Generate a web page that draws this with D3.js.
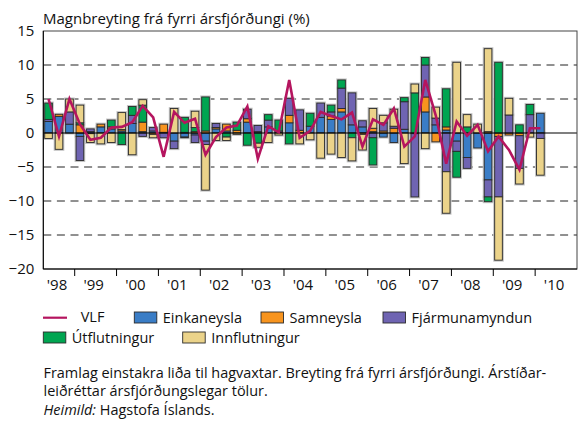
<!DOCTYPE html>
<html><head><meta charset="utf-8">
<script src="https://cdn.jsdelivr.net/npm/d3@7"></script>
<style>
html,body{margin:0;padding:0;background:#fff;}
svg{display:block;font-family:"Open Sans",Lato,sans-serif;}
</style></head>
<body><svg id="chart" width="578" height="422"></svg>
<script>
// ---- data ----
const slots = [];
for (let y = 1998; y <= 2010; y++) for (let q = 1; q <= 4; q++) if (!(y === 1998 && q === 1)) slots.push(y + "Q" + q);
const quarters = slots.slice(0, 48);
const einkaneysla    = [1.7,2.45,1.3,-0.5,0.2,0.9,0.6,0.3,1.4,0.2,0.3,0.1, -1.2,-0.6,-0.3,-1.2,0.6,0.3,0,1.6,0.2,0.9,0.1,1.5, 0,1.0,2.3,2.0,3.1,1.2,0.9,0.2,-0.6,-1.4,0.55,-0.1, 3.1,1.2,0.44,-1.2,-3.6,-2.2,-6.9,0,0,0,0,2.9];
const samneysla      = [0,0.3,0,1.2,-0.1,0.4,0.3,0.2,0,1.4,-0.2,1.2, 0,0.1,0.2,0.3,0.2,1.0,0.4,0.5,0,0,0,1.1, 0.4,0,0,0.5,0.5,0,-0.2,0.5,0.3,0.7,0,0, 2.2,-1.3,0.46,0,0,0,0.2,-0.5,-0.3,-0.4,0,0];
const fjarmunamyndun = [0.3,0,1.8,-3.55,0.4,0,0,0,1.2,-0.5,0.5,-0.7, -1.1,-0.1,-1.1,-0.5,0.6,0,0,1.4,0.9,1.0,0.2,2.5, 3.0,0,2.1,0.6,3.0,4.7,0.9,-0.7,1.2,0.3,4.05,-9.3, 4.7,1.0,-5.7,-1.5,-1.6,0,-2.5,-8.9,2.65,-4.8,2.7,-0.8];
const utflutningur   = [2.4,0,0,0.3,0,0,1.0,-1.7,1.3,2.5,0,0, 0,2.2,0.6,5.0,0,-0.6,1.2,-1.8,-1.5,0.8,1.6,-1.6, 0,1.9,0,1.0,1.2,-0.7,0,-4.0,0,0,0.6,5.9, 1.1,0,5.6,-3.8,0.9,0,-0.7,10.4,0,1.2,1.5,0];
const innflutningur  = [-0.8,-2.4,1.9,2.6,-1.3,-1.6,-1.4,2.5,-3.2,0.8,-0.5,0, 3.6,0,2.4,-6.7,-1.1,-0.5,-0.2,0,-0.6,-1.4,-0.3,0, -1.6,-1.0,-3.7,-3.1,-3.6,-3.4,-2.3,2.9,1.1,2.5,-4.5,1.3, -2.3,1.6,-6.1,10.4,1.8,1.3,12.2,-9.3,2.45,-2.3,-0.6,-5.4];
const vlf            = [5.0,-0.5,5.0,1.3,-1.0,-0.7,0.8,0.9,1.6,4.0,2.3,-3.5, 3.1,1.5,2.1,-3.2,-0.6,0.8,1.1,3.9,-3.8,1.0,0.1,7.8, -0.7,0.3,3.1,2.5,2.0,3.0,-2.0,2.0,1.2,3.6,-2.0,-0.5, 7.8,2.6,-4.5,1.7,-0.4,1.2,-2.7,-0.5,-2.5,-5.4,0.7,0.7];
const seriesNames = ["Einkaneysla","Samneysla","Fjármunamyndun","Útflutningur","Innflutningur"];
const seriesColors = ["#3a7dc6","#f7941e","#6f64b2","#00a551","#ebd38a"];
const yTicks = [-20,-15,-10,-5,0,5,10,15];
const yearLabels = ["'98","'99","'00","'01","'02","'03","'04","'05","'06","'07","'08","'09","'10"];
const title = "Magnbreyting frá fyrri ársfjórðungi (%)";
const notes = ["Framlag einstakra liða til hagvaxtar. Breyting frá fyrri ársfjórðungi. Árstíðar-",
               "leiðréttar ársfjórðungslegar tölur."];

// ---- chart ----
const svg = d3.select("#chart");
const L = 43.3, R = 577, T = 31, B = 269;
const x = d3.scaleBand().domain(slots).range([L, R]).paddingInner(0.27).paddingOuter(0.135);
const y = d3.scaleLinear().domain([-20, 15]).range([B, T]);
const stepX = x.step();
const edge = s => x(s) - stepX * 0.135; // left edge of a quarter slot

const rows = quarters.map((q, i) => ({q, Einkaneysla: einkaneysla[i], Samneysla: samneysla[i],
  "Fjármunamyndun": fjarmunamyndun[i], "Útflutningur": utflutningur[i], Innflutningur: innflutningur[i]}));
const stacked = d3.stack().keys(seriesNames).offset(d3.stackOffsetDiverging)(rows);

// gridlines
svg.append("g").selectAll("line").data(yTicks.filter(v => v !== 0 && v !== 15 && v !== -20)).join("line")
  .attr("x1", L).attr("x2", R).attr("y1", d => y(d)).attr("y2", d => y(d))
  .attr("stroke", "#222").attr("stroke-width", 1).attr("stroke-dasharray", "8,5.6");

// bars (soft halo, then fills)
const gBars = svg.append("g");
stacked.forEach(s => {
  gBars.append("g").selectAll("rect").data(s.filter(d => d[1] - d[0] !== 0)).join("rect")
    .attr("x", d => x(d.data.q) - 0.5).attr("width", x.bandwidth() + 1)
    .attr("y", d => y(d[1]) - 0.5).attr("height", d => Math.abs(y(d[0]) - y(d[1])) + 1)
    .attr("fill", "none").attr("stroke", "#c4c4c4").attr("stroke-width", 2);
});
stacked.forEach((s, k) => {
  gBars.append("g").selectAll("rect").data(s.filter(d => d[1] - d[0] !== 0)).join("rect")
    .attr("x", d => x(d.data.q)).attr("width", x.bandwidth())
    .attr("y", d => y(d[1])).attr("height", d => Math.abs(y(d[0]) - y(d[1])))
    .attr("fill", seriesColors[k]).attr("stroke", "#2a2a2a").attr("stroke-width", 0.9);
});

// zero line
svg.append("line").attr("x1", L).attr("x2", R).attr("y1", y(0)).attr("y2", y(0))
  .attr("stroke", "#000").attr("stroke-width", 1.2);

// VLF line
const line = d3.line().x((d, i) => x(quarters[i]) + x.bandwidth() / 2).y(d => y(d));
svg.append("path").datum(vlf).attr("d", line).attr("fill", "none")
  .attr("stroke", "#b5155f").attr("stroke-width", 2.6).attr("stroke-linejoin", "miter");

// frame
svg.append("rect").attr("x", L).attr("y", T).attr("width", R - L).attr("height", B - T)
  .attr("fill", "none").attr("stroke", "#444").attr("stroke-width", 1);
svg.append("line").attr("x1", L).attr("x2", L).attr("y1", T).attr("y2", B).attr("stroke", "#000");
svg.append("line").attr("x1", L).attr("x2", R).attr("y1", B).attr("y2", B).attr("stroke", "#000");

// y axis labels
const yAxis = d3.axisLeft(y).tickValues(yTicks).tickSize(0).tickPadding(9).tickFormat(d3.format("d"));
const gy = svg.append("g").attr("transform", `translate(${L},0)`).call(yAxis);
gy.select(".domain").remove();
gy.selectAll("text").attr("font-size", 15).attr("fill", "#111").attr("font-family", "Open Sans");

// x ticks and labels
const yearStarts = slots.filter(s => s.endsWith("Q1"));
svg.append("g").selectAll("line").data(yearStarts).join("line")
  .attr("x1", d => edge(d)).attr("x2", d => edge(d))
  .attr("y1", B).attr("y2", B + 7).attr("stroke", "#000");
svg.append("g").selectAll("text").data(yearLabels).join("text")
  .attr("x", (d, i) => {
    const yr = 1998 + i;
    const a = i === 0 ? L : edge(yr + "Q1");
    const b = yr === 2010 ? R : edge((yr + 1) + "Q1");
    return (a + b) / 2 - 2;
  })
  .attr("y", 290).attr("text-anchor", "middle").attr("font-size", 15).attr("fill", "#111")
  .text(d => d);

// title
svg.append("text").attr("x", 43).attr("y", 24).attr("font-size", 15).attr("fill", "#111").text(title);

// legend
const leg = svg.append("g");
leg.append("line").attr("x1", 43).attr("x2", 67).attr("y1", 317.7).attr("y2", 317.7)
  .attr("stroke", "#b5155f").attr("stroke-width", 2.2);
leg.append("text").attr("x", 80.7).attr("y", 322).attr("font-size", 14.5).attr("fill", "#111").text("VLF");
const legPos = [[134.3, 312], [261, 312], [383, 312], [43.3, 332], [182.7, 332]];
seriesNames.forEach((n, k) => {
  const [lx, ly] = legPos[k];
  leg.append("rect").attr("x", lx).attr("y", ly).attr("width", 22.5).attr("height", 11)
    .attr("fill", seriesColors[k]).attr("stroke", "#2a2a2a").attr("stroke-width", 0.9);
  leg.append("text").attr("x", lx + 28.5).attr("y", ly + 10.5).attr("font-size", 14.5).attr("fill", "#111").text(n);
});

// notes
svg.append("text").attr("x", 43.5).attr("y", 378).attr("font-size", 14.45).attr("fill", "#111").text(notes[0]);
svg.append("text").attr("x", 43.5).attr("y", 396).attr("font-size", 14.45).attr("fill", "#111").text(notes[1]);
const src = svg.append("text").attr("x", 43.5).attr("y", 415).attr("font-size", 14.45).attr("fill", "#111");
src.append("tspan").attr("font-style", "italic").text("Heimild:");
src.append("tspan").text(" Hagstofa Íslands.");
</script></body></html>
